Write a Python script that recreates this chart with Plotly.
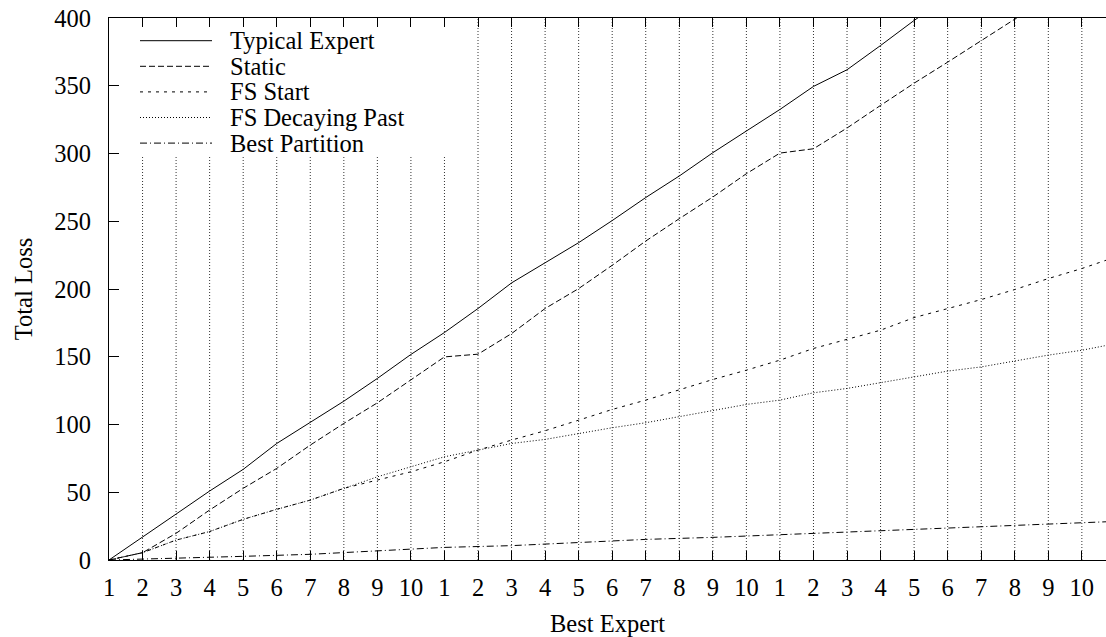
import plotly.graph_objects as go

# ---------------- data ----------------
tick_pos = list(range(30))
tick_labels = [str(k) for k in range(1, 11)] * 3

typical_x = list(range(26))
typical = [0, 16.7, 33.9, 50.9, 66.9, 86.0, 101.3, 117.2, 134.0, 151.7, 167.9, 185.6,
           204.5, 219.5, 234.2, 250.5, 267.5, 283.4, 300.6, 316.6, 332.5, 349.5, 361.8,
           379.7, 398.2, 415.0]

static_x = list(range(29))
static = [0, 5.4, 19.7, 36.9, 52.9, 67.6, 84.8, 100.8, 116.0, 132.7, 149.9, 151.9,
          167.1, 185.6, 200.3, 217.5, 235.4, 251.9, 267.9, 285.1, 300.3, 303.5, 318.8,
          335.5, 351.9, 367.4, 383.4, 399.4, 415.0]

fs_x = list(range(30)) + [29.72]
fs_start = [0, 5.4, 14.7, 21.0, 30.0, 37.4, 44.2, 52.9, 59.0, 65.1, 72.5, 81.1, 88.5,
            95.4, 103.2, 111.1, 118.0, 125.5, 133.2, 140.1, 147.5, 156.1, 162.7, 169.6,
            178.9, 185.6, 192.2, 199.6, 207.7, 215.1, 221.2]
fs_decay = [0, 5.4, 14.7, 21.0, 30.0, 37.4, 44.2, 52.9, 61.4, 68.8, 76.2, 81.1, 86.0,
            89.0, 93.4, 97.6, 101.3, 105.7, 110.6, 114.8, 118.0, 123.4, 126.6, 130.8,
            135.2, 139.4, 142.5, 147.0, 151.2, 154.8, 158.3]

best_x = [0, 2, 4, 6, 8, 10, 12, 14, 16, 18, 20, 22, 24, 26, 28, 29.72]
best_part = [0, 1.2, 2.7, 4.2, 6.9, 9.3, 10.6, 12.8, 15.2, 16.7, 18.7, 20.9, 22.9,
             24.8, 26.5, 28.2]

series = [
    ("Typical Expert", typical_x, typical, "solid"),
    ("Static", static_x, static, "6px,3px"),
    ("FS Start", fs_x, fs_start, "3px,5px"),
    ("FS Decaying Past", fs_x, fs_decay, "1px,2px"),
    ("Best Partition", best_x, best_part, "7px,3px,1px,3px"),
]

FONT = "Liberation Serif, Times New Roman, serif"
FS = 24.5
W, H = 1106, 637
L, R, T, B = 109, 0, 18, 77
Y_MAX = 400

fig = go.Figure()
for name, xs, ys, dash in series:
    fig.add_trace(go.Scatter(x=xs, y=ys, mode="lines", name=name, showlegend=False,
                             line=dict(color="black", width=1, dash=dash)))

pw, ph = W - L - R, H - T - B
def px_x(p):
    return (p - L) / pw
def px_y(p):
    return (H - B - p) / ph

shapes = []
# dotted vertical grid at every x tick; hidden behind the key box in the top-left
key_bottom = px_y(157)
for p in tick_pos[1:]:
    top = key_bottom if p <= 10 else 1
    shapes.append(dict(type="line", xref="x", yref="y domain", x0=p, x1=p, y0=0, y1=top,
                       line=dict(color="#333333", width=1, dash="1px,2px"), layer="below"))

# hand-drawn key (gnuplot style)
annotations = []
row_y = [40.7, 66.3, 91.9, 117.5, 143.1]
for (name, _, _, dash), ry in zip(series, row_y):
    shapes.append(dict(type="line", xref="paper", yref="paper", x0=px_x(140), x1=px_x(212),
                       y0=px_y(ry), y1=px_y(ry), line=dict(color="black", width=1, dash=dash)))
    annotations.append(dict(xref="paper", yref="paper", x=px_x(228), y=px_y(ry), text=name,
                            showarrow=False, xanchor="left", yanchor="middle",
                            font=dict(family=FONT, size=FS, color="black")))

fig.update_layout(
    width=W, height=H,
    margin=dict(l=L, r=R, t=T, b=B, pad=0),
    paper_bgcolor="white", plot_bgcolor="white",
    font=dict(family=FONT, size=FS, color="black"),
    showlegend=False,
    shapes=shapes, annotations=annotations,
    xaxis=dict(range=[0, 29.72], tickmode="array", tickvals=tick_pos, ticktext=tick_labels,
               ticks="inside", ticklen=9, tickcolor="black", tickwidth=1,
               showline=True, linecolor="black", linewidth=1, mirror="ticks",
               showgrid=False, zeroline=False, ticklabelstandoff=6,
               title=dict(text="Best Expert", standoff=14,
                          font=dict(family=FONT, size=FS, color="black"))),
    yaxis=dict(range=[0, Y_MAX], tickmode="linear", tick0=0, dtick=50,
               ticks="inside", ticklen=10, tickcolor="black", tickwidth=1,
               showline=True, linecolor="black", linewidth=1, mirror=False,
               showgrid=False, zeroline=False, ticklabelstandoff=12,
               title=dict(text="Total Loss", standoff=14,
                          font=dict(family=FONT, size=FS, color="black"))),
    yaxis2=dict(range=[0, Y_MAX], overlaying="y", side="right", tickmode="linear", tick0=0,
                dtick=50, ticks="inside", ticklen=3, tickcolor="black", showline=False,
                showgrid=False, zeroline=False, showticklabels=False),
)

fig.write_html("out.html")
